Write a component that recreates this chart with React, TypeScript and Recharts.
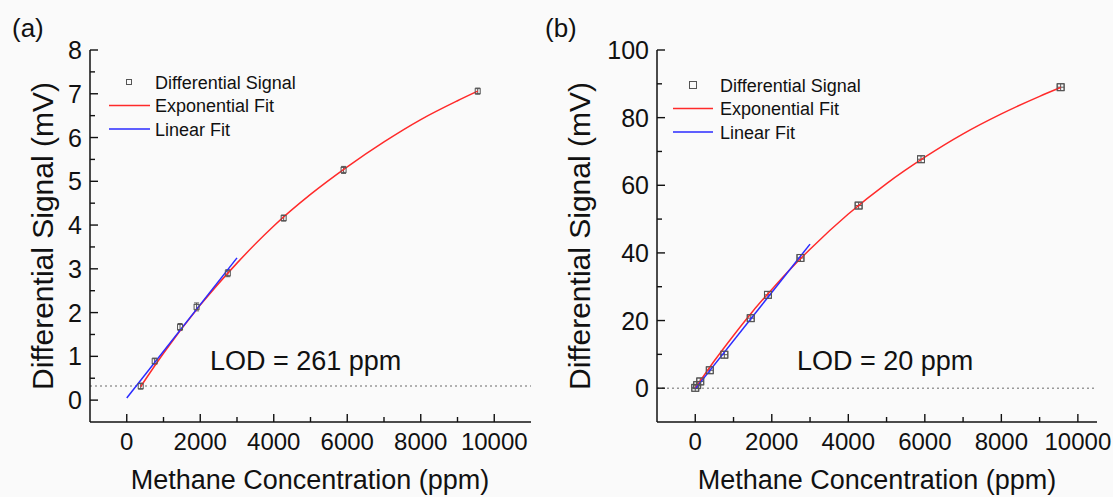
import { ComposedChart, XAxis, YAxis, Line, Scatter, ErrorBar, ReferenceLine } from 'recharts'

const FONT = '"Liberation Sans", Arial, sans-serif'
const RED = '#ff2a2a'
const BLUE = '#2a2aff'
const MARK = '#555'

// ---- panel (a) ----
const concA = [380, 760, 1450, 1900, 2750, 4270, 5900, 9550]
const signalA = [0.32, 0.89, 1.67, 2.13, 2.9, 4.16, 5.26, 7.06]
const errA = [0.07, 0.07, 0.08, 0.09, 0.08, 0.07, 0.08, 0.07]
const expConcA = [380, 1000, 2000, 3000, 4000, 5000, 6000, 7000, 8000, 9000, 9550]
const expFitA = [0.31, 1.07, 2.17, 3.13, 3.98, 4.7, 5.33, 5.9, 6.41, 6.84, 7.06]
const linConcA = [0, 3000]
const linFitA = [0.05, 3.25]
const yTicksA = [0, 0.5, 1, 1.5, 2, 2.5, 3, 3.5, 4, 4.5, 5, 5.5, 6, 6.5, 7, 7.5, 8]
const yLabelsA = [0, 1, 2, 3, 4, 5, 6, 7, 8]

// ---- panel (b) ----
const concB = [0, 50, 130, 380, 760, 1450, 1900, 2750, 4270, 5900, 9550]
const signalB = [0.1, 0.9, 2.0, 5.3, 9.9, 20.7, 27.6, 38.5, 54.0, 67.7, 89.0]
const errB = [1.0, 1.0, 1.0, 1.0, 1.0, 1.0, 1.0, 1.0, 1.0, 1.0, 1.0]
const concErrB = [90, 90, 90, 90, 90, 90, 90, 90, 90, 90, 90]
const expConcB = [0, 500, 1000, 1500, 2000, 2500, 3000, 4000, 5000, 6000, 7000, 8000, 9000, 9550]
const expFitB = [0, 8.1, 15.6, 22.7, 29.2, 35.4, 41.1, 51.5, 60.5, 68.3, 75.2, 81.1, 86.3, 88.9]
const linConcB = [0, 3000]
const linFitB = [-0.2, 42.6]
const yTicksB = [0, 10, 20, 30, 40, 50, 60, 70, 80, 90, 100]
const yLabelsB = [0, 20, 40, 60, 80, 100]

const xTicks = [0, 1000, 2000, 3000, 4000, 5000, 6000, 7000, 8000, 9000, 10000]
const xLabels = [0, 2000, 4000, 6000, 8000, 10000]
const legendNames = ['Differential Signal', 'Exponential Fit', 'Linear Fit']

const TM = 6

function zip(xs: number[], ys: number[], es?: number[], exs?: number[]) {
  return xs.map((x, i) => ({ x, y: ys[i], ey: es ? es[i] : 0, ex: exs ? exs[i] : 0 }))
}

function bottomTick(labels: number[]) {
  return (props: any) => {
    const { x, y, payload } = props
    const major = labels.includes(payload.value)
    const axisY = y - TM
    return (
      <g>
        <line x1={x} x2={x} y1={axisY} y2={axisY - (major ? 8 : 5)} stroke="#111" strokeWidth={1.4} />
        {major && (
          <text x={x} y={axisY + 28} textAnchor="middle" fontSize={24} fontFamily={FONT} fill="#111">
            {payload.value}
          </text>
        )}
      </g>
    )
  }
}

function topTick(labels: number[]) {
  return (props: any) => {
    const { x, y, payload } = props
    const major = labels.includes(payload.value)
    return <line x1={x} x2={x} y1={y} y2={y + (major ? 8 : 5)} stroke="#111" strokeWidth={1.4} />
  }
}

function leftTick(labels: number[]) {
  return (props: any) => {
    const { x, y, payload } = props
    const major = labels.includes(payload.value)
    const axisX = x + TM
    return (
      <g>
        <line x1={axisX} x2={axisX + (major ? 8 : 5)} y1={y} y2={y} stroke="#111" strokeWidth={1.4} />
        {major && (
          <text x={axisX - 8} y={y + 9} textAnchor="end" fontSize={25} fontFamily={FONT} fill="#111">
            {payload.value}
          </text>
        )}
      </g>
    )
  }
}

function rightTick(labels: number[]) {
  return (props: any) => {
    const { x, y, payload } = props
    const major = labels.includes(payload.value)
    return <line x1={x} x2={x - (major ? 8 : 5)} y1={y} y2={y} stroke="#111" strokeWidth={1.4} />
  }
}

function squareShape(size: number) {
  return (props: any) => {
    const { cx, cy } = props
    if (cx == null || cy == null) return <g />
    return (
      <rect x={cx - size / 2} y={cy - size / 2} width={size} height={size} fill="none" stroke={MARK} strokeWidth={1} />
    )
  }
}

interface PanelProps {
  left: number
  width: number
  axisWidth: number
  marginRight: number
  xDomain: [number, number]
  yDomain: [number, number]
  yTicks: number[]
  yLabels: number[]
  points: { x: number; y: number; ey: number; ex: number }[]
  expFit: { x: number; y: number }[]
  linFit: { x: number; y: number }[]
  lodLevel: number
  markSize: number
  xErr: boolean
}

function Panel(p: PanelProps) {
  const axisLine = { stroke: '#111', strokeWidth: 1.5 }
  const cap = p.markSize / 2
  return (
    <div style={{ position: 'absolute', left: p.left, top: 0 }}>
      <ComposedChart width={p.width} height={497} margin={{ top: 50, right: p.marginRight, bottom: 0, left: 0 }}>
        <XAxis
          dataKey="x"
          type="number"
          domain={p.xDomain}
          ticks={xTicks}
          interval={0}
          allowDataOverflow
          height={75}
          tickSize={0}
          tickMargin={TM}
          tick={bottomTick(xLabels)}
          axisLine={axisLine}
        />
        <XAxis
          xAxisId="t"
          orientation="top"
          type="number"
          domain={p.xDomain}
          ticks={xTicks}
          interval={0}
          allowDataOverflow
          height={0}
          tickSize={0}
          tickMargin={0}
          tick={topTick(xLabels)}
          axisLine={axisLine}
        />
        <YAxis
          dataKey="y"
          type="number"
          domain={p.yDomain}
          ticks={p.yTicks}
          interval={0}
          allowDataOverflow
          width={p.axisWidth}
          tickSize={0}
          tickMargin={TM}
          tick={leftTick(p.yLabels)}
          axisLine={axisLine}
        />
        <YAxis
          yAxisId="r"
          orientation="right"
          type="number"
          domain={p.yDomain}
          ticks={p.yTicks}
          interval={0}
          allowDataOverflow
          width={0}
          tickSize={0}
          tickMargin={0}
          tick={rightTick(p.yLabels)}
          axisLine={axisLine}
        />
        <ReferenceLine y={p.lodLevel} stroke="#999" strokeWidth={1.5} strokeDasharray="2 3" />
        <Scatter data={p.points} dataKey="y" shape={squareShape(p.markSize)} isAnimationActive={false}>
          <ErrorBar dataKey="ey" direction="y" width={cap} stroke={MARK} strokeWidth={1} isAnimationActive={false} />
          {p.xErr && (
            <ErrorBar dataKey="ex" direction="x" width={cap} stroke={MARK} strokeWidth={1} isAnimationActive={false} />
          )}
        </Scatter>
        <Line data={p.expFit} dataKey="y" type="monotone" stroke={RED} strokeWidth={1.5} dot={false} isAnimationActive={false} />
        <Line data={p.linFit} dataKey="y" type="linear" stroke={BLUE} strokeWidth={1.5} dot={false} isAnimationActive={false} />
      </ComposedChart>
    </div>
  )
}

function LegendBlock({ x, y, lineX1, lineX2, textX, size }: { x: number; y: number; lineX1: number; lineX2: number; textX: number; size: number }) {
  const rows = [y, y + 23.5, y + 47]
  return (
    <g fontFamily={FONT} fontSize={18} fill="#111">
      <rect x={x - size / 2} y={rows[0] - size / 2} width={size} height={size} fill="none" stroke={MARK} strokeWidth={1} />
      <line x1={lineX1} x2={lineX2} y1={rows[1]} y2={rows[1]} stroke={RED} strokeWidth={1.5} />
      <line x1={lineX1} x2={lineX2} y1={rows[2]} y2={rows[2]} stroke={BLUE} strokeWidth={1.5} />
      {legendNames.map((n, i) => (
        <text key={n} x={textX} y={rows[i] + 6.5}>
          {n}
        </text>
      ))}
    </g>
  )
}

export default function App() {
  return (
    <div style={{ position: 'absolute', left: 0, top: 0, width: 1113, height: 497, background: '#fafafa', overflow: 'hidden' }}>
      <Panel
        left={0}
        width={560}
        axisWidth={90}
        marginRight={29}
        xDomain={[-1000, 11000]}
        yDomain={[-0.5, 8]}
        yTicks={yTicksA}
        yLabels={yLabelsA}
        points={zip(concA, signalA, errA)}
        expFit={zip(expConcA, expFitA)}
        linFit={zip(linConcA, linFitA)}
        lodLevel={0.32}
        markSize={5}
        xErr={false}
      />
      <Panel
        left={560}
        width={553}
        axisWidth={97}
        marginRight={16}
        xDomain={[-1000, 10500]}
        yDomain={[-10, 100]}
        yTicks={yTicksB}
        yLabels={yLabelsB}
        points={zip(concB, signalB, errB, concErrB)}
        expFit={zip(expConcB, expFitB)}
        linFit={zip(linConcB, linFitB)}
        lodLevel={0}
        markSize={7}
        xErr={true}
      />
      <svg width={1113} height={497} style={{ position: 'absolute', left: 0, top: 0, pointerEvents: 'none' }}>
        <g fontFamily={FONT} fill="#111">
          <text x={12} y={37} fontSize={26}>(a)</text>
          <text x={545} y={37} fontSize={26}>(b)</text>
          <text x={310} y={489} fontSize={27} textAnchor="middle">Methane Concentration (ppm)</text>
          <text x={877} y={489} fontSize={27} textAnchor="middle">Methane Concentration (ppm)</text>
          <text x={53} y={236} fontSize={30} textAnchor="middle" transform="rotate(-90 53 236)">Differential Signal (mV)</text>
          <text x={590} y={236} fontSize={30} textAnchor="middle" transform="rotate(-90 590 236)">Differential Signal (mV)</text>
          <text x={210} y={370} fontSize={27}>LOD = 261 ppm</text>
          <text x={797} y={370} fontSize={27}>LOD = 20 ppm</text>
        </g>
        <LegendBlock x={129} y={82} lineX1={109} lineX2={150} textX={155} size={5} />
        <LegendBlock x={693} y={85} lineX1={673} lineX2={713} textX={720} size={7} />
      </svg>
    </div>
  )
}
